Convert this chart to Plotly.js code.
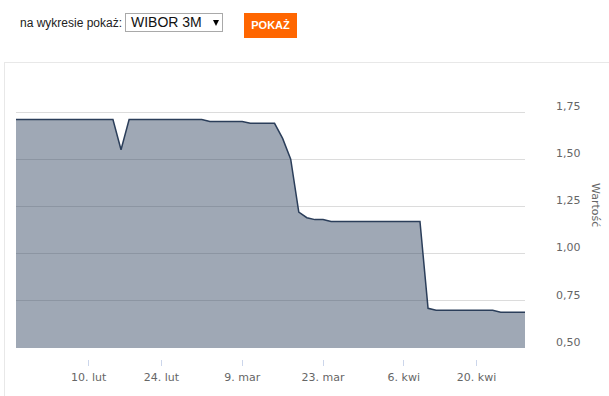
<!DOCTYPE html>
<html><head><meta charset="utf-8">
<script src="https://cdn.plot.ly/plotly-3.0.1.min.js"></script>
<style>
html,body{margin:0;padding:0;width:609px;height:396px;overflow:hidden;background:#fff;font-family:"Liberation Sans",Arial,sans-serif;}
#lbl{position:absolute;left:20px;top:14px;font-size:12px;color:#222;line-height:18px;white-space:nowrap;}
#sel{position:absolute;left:125px;top:13px;width:96px;height:17px;border:1px solid #a9a9a9;background:#fff;}
#sel .t{position:absolute;left:5px;top:0;font-size:14px;line-height:17px;color:#111;}
#sel .a{position:absolute;left:87px;top:6px;width:0;height:0;border-left:3px solid transparent;border-right:3px solid transparent;border-top:6px solid #000;}
#btn{position:absolute;left:244px;top:13px;width:53px;height:25px;background:#ff6600;color:#fff;font-weight:bold;font-size:11px;line-height:25px;text-align:center;}
#box{position:absolute;left:4px;top:62px;width:700px;height:400px;border:1px solid #e8e8e8;}
#chart{position:absolute;left:0;top:0;width:609px;height:396px;}
</style>
</head><body>
<div id="lbl">na wykresie pokaż:</div>
<div id="sel"><span class="t">WIBOR 3M</span><span class="a"></span></div>
<div id="btn">POKAŻ</div>
<div id="box"></div>
<div id="chart"></div>
<script>
const dates = [
 "2020-01-28","2020-01-29","2020-01-30","2020-01-31",
 "2020-02-03","2020-02-04","2020-02-05","2020-02-06","2020-02-07",
 "2020-02-10","2020-02-11","2020-02-12","2020-02-13","2020-02-14",
 "2020-02-18","2020-02-19","2020-02-20","2020-02-21",
 "2020-02-24","2020-02-25","2020-02-26","2020-02-27","2020-02-28",
 "2020-03-02","2020-03-03","2020-03-04","2020-03-05","2020-03-06",
 "2020-03-09","2020-03-10","2020-03-11","2020-03-12","2020-03-13",
 "2020-03-16","2020-03-17","2020-03-18","2020-03-19","2020-03-20",
 "2020-03-23","2020-03-24","2020-03-25","2020-03-26","2020-03-27",
 "2020-03-30","2020-03-31","2020-04-01","2020-04-02","2020-04-03",
 "2020-04-06","2020-04-07","2020-04-08","2020-04-09","2020-04-10",
 "2020-04-14","2020-04-15","2020-04-16","2020-04-17",
 "2020-04-20","2020-04-21","2020-04-22","2020-04-23","2020-04-24",
 "2020-04-27","2020-04-28"
];
const wibor3m = [
 1.71,1.71,1.71,1.71,
 1.71,1.71,1.71,1.71,1.71,
 1.71,1.71,1.71,1.71,1.55,
 1.71,1.71,1.71,1.71,
 1.71,1.71,1.71,1.71,1.71,
 1.71,1.70,1.70,1.70,1.70,
 1.70,1.69,1.69,1.69,1.69,
 1.61,1.50,1.22,1.19,1.18,
 1.18,1.17,1.17,1.17,1.17,
 1.17,1.17,1.17,1.17,1.17,
 1.17,1.17,1.17,0.71,0.70,
 0.70,0.70,0.70,0.70,
 0.70,0.70,0.70,0.69,0.69,
 0.69,0.69
];
const xTickDates = ["2020-02-10","2020-02-24","2020-03-09","2020-03-23","2020-04-06","2020-04-20"];
const xTickLabels = ["10. lut","24. lut","9. mar","23. mar","6. kwi","20. kwi"];
const yTickVals = [0.5,0.75,1.0,1.25,1.5,1.75];
const yTickLabels = ["0,50","0,75","1,00","1,25","1,50","1,75"];
const yTitle = "Wartość";

const trace = {
  x: dates, y: wibor3m, type: "scatter", mode: "lines",
  fill: "tozeroy", fillcolor: "rgba(43,62,90,0.45)",
  line: {color: "#2b3e5a", width: 1.5, shape: "linear"},
  hoverinfo: "skip"
};
const tickFont = {family: "DejaVu Sans, sans-serif", size: 11, color: "#666666"};
const layout = {
  width: 609, height: 396,
  margin: {l: 16, r: 84, t: 72, b: 37, pad: 0},
  paper_bgcolor: "rgba(0,0,0,0)", plot_bgcolor: "rgba(0,0,0,0)",
  showlegend: false,
  xaxis: {
    type: "category", range: [0, dates.length - 1],
    anchor: "free", position: 0,
    tickmode: "array", tickvals: xTickDates, ticktext: xTickLabels,
    ticks: "outside", ticklen: 6, tickcolor: "#ccd6eb", tickwidth: 1,
    showgrid: false, showline: false, zeroline: false,
    tickfont: tickFont, ticklabelstandoff: 2, fixedrange: true
  },
  yaxis: {
    side: "right", domain: [11/287, 1],
    range: [0.5, 0.5 + 276/188.8],
    tickmode: "array", tickvals: yTickVals, ticktext: yTickLabels,
    ticks: "", showline: false, zeroline: false,
    showgrid: true, gridcolor: "#dcdcdc", gridwidth: 1,
    tickfont: tickFont, ticklabelstandoff: 30, ticklabelshift: -6,
    fixedrange: true
  },
  annotations: [{
    text: yTitle, xref: "paper", yref: "paper",
    x: (596 - 16) / 509, y: (359 - 205) / 287,
    showarrow: false, textangle: 90,
    xanchor: "center", yanchor: "middle",
    font: {family: "DejaVu Sans, sans-serif", size: 11, color: "#666666"}
  }]
};
Plotly.newPlot("chart", [trace], layout, {displayModeBar: false, staticPlot: true});
</script>
</body></html>
